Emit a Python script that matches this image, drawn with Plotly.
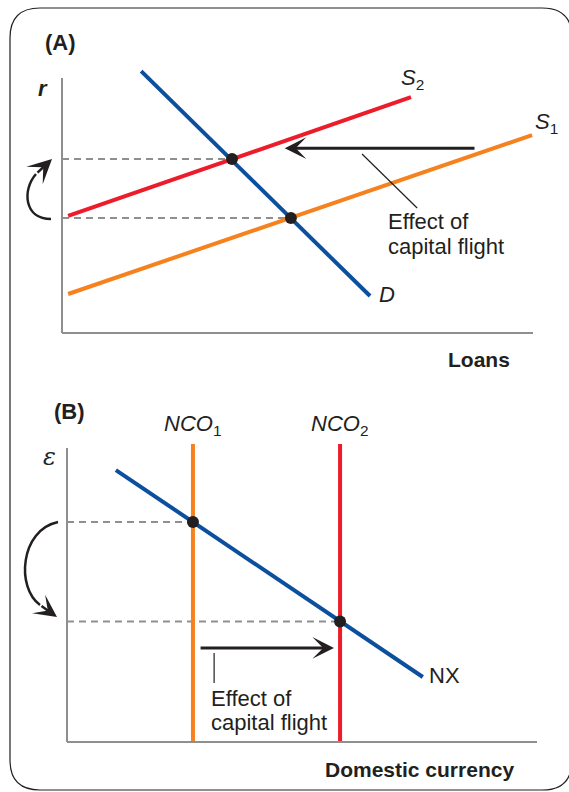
import plotly.graph_objects as go

# ---------------- Panel A : market for loanable funds ----------------
a_d_q = [1.68, 6.54]          # demand D
a_d_r = [10.27, 1.45]
a_s1_q = [0.13, 9.98]         # supply S1
a_s1_r = [1.53, 7.76]
a_s2_q = [0.13, 7.41]         # supply S2
a_s2_r = [4.59, 9.25]
a_eq_q = [3.61, 4.86]         # equilibria (S2,D) and (S1,D)
a_eq_r = [6.82, 4.51]
a_shift_q = [8.79, 4.73]      # arrow: from -> to
a_shift_r = [7.25, 7.25]
a_lead_q = [6.37, 7.54]
a_lead_r = [7.02, 4.90]

# ---------------- Panel B : foreign-currency exchange market ----------------
b_nx_x = [1.04, 7.57]
b_nx_e = [9.25, 2.21]
b_nco1_x = [2.68, 2.68]
b_nco2_x = [5.81, 5.81]
b_nco_e = [0.0, 10.14]
b_eq_x = [2.68, 5.81]
b_eq_e = [7.48, 4.1]
b_shift_x = [2.81, 5.68]
b_shift_e = [3.2, 3.2]
b_lead_x = [3.13, 3.13]
b_lead_e = [3.03, 2.01]

W, H = 569, 792
BLUE = "#0b4f9e"
RED = "#ec1c2a"
ORANGE = "#f6821f"
INK = "#231f20"
GREY = "#8f8f8f"
FONT = "Liberation Sans, Arial, sans-serif"

# pixel <-> data helpers (decorations only)
def a_x(px): return (px - 62) / 47.1
def a_y(py): return (333 - py) / 25.5
def b_x(px): return (px - 67) / 47.0
def b_y(py): return (742 - py) / 29.4

fig = go.Figure()

def line(xs, ys, color, width, xa="x", ya="y", dash=None):
    fig.add_trace(go.Scatter(x=xs, y=ys, mode="lines", xaxis=xa, yaxis=ya,
                             line=dict(color=color, width=width, dash=dash),
                             hoverinfo="skip", showlegend=False))

# Panel A
for q, r in zip(a_eq_q, a_eq_r):
    line([0, q], [r, r], GREY, 2, dash="7px,5px")
line(a_s2_q, a_s2_r, RED, 4)
line(a_s1_q, a_s1_r, ORANGE, 4)
line(a_d_q, a_d_r, BLUE, 4)
line(a_lead_q, a_lead_r, INK, 1.2)
fig.add_trace(go.Scatter(x=a_eq_q, y=a_eq_r, mode="markers", xaxis="x", yaxis="y",
                         marker=dict(color=INK, size=12), hoverinfo="skip", showlegend=False))

# Panel B
for x, e in zip(b_eq_x, b_eq_e):
    line([0, x], [e, e], GREY, 2, "x2", "y2", dash="7px,5px")
line(b_nco1_x, b_nco_e, ORANGE, 4, "x2", "y2")
line(b_nco2_x, b_nco_e, RED, 4, "x2", "y2")
line(b_nx_x, b_nx_e, BLUE, 4, "x2", "y2")
line(b_lead_x, b_lead_e, INK, 1.2, "x2", "y2")
fig.add_trace(go.Scatter(x=b_eq_x, y=b_eq_e, mode="markers", xaxis="x2", yaxis="y2",
                         marker=dict(color=INK, size=12), hoverinfo="skip", showlegend=False))

shapes = []
# axes lines
shapes += [
    dict(type="line", xref="x", yref="y", x0=0, y0=0, x1=0, y1=10, line=dict(color=GREY, width=2)),
    dict(type="line", xref="x", yref="y", x0=0, y0=0, x1=10, y1=0, line=dict(color=GREY, width=2)),
    dict(type="line", xref="x2", yref="y2", x0=0, y0=0, x1=0, y1=10, line=dict(color=GREY, width=2)),
    dict(type="line", xref="x2", yref="y2", x0=0, y0=0, x1=10, y1=0, line=dict(color=GREY, width=2)),
]
# curved arrows (bodies)
pa = "M {},{} C {},{} {},{} {},{}".format(a_x(51), a_y(219), a_x(24), a_y(219),
                                            a_x(22), a_y(190), a_x(36), a_y(174))
shapes.append(dict(type="path", xref="x", yref="y", path=pa, line=dict(color=INK, width=2.5)))
pb = "M {},{} C {},{} {},{} {},{}".format(b_x(58), b_y(522), b_x(20), b_y(530),
                                            b_x(16), b_y(588), b_x(40), b_y(605))
shapes.append(dict(type="path", xref="x2", yref="y2", path=pb, line=dict(color=INK, width=2.5)))

# rounded frame
def px(v): return v / W
def py(v): return 1 - v / H
L, T, R, B, rad = 10, 8, 572, 790, 30
frame = ("M {},{} L {},{} Q {},{} {},{} L {},{} Q {},{} {},{} L {},{} Q {},{} {},{} L {},{} Q {},{} {},{} Z"
         .format(px(L + rad), py(T), px(R - rad), py(T), px(R), py(T), px(R), py(T + rad),
                 px(R), py(B - rad), px(R), py(B), px(R - rad), py(B),
                 px(L + rad), py(B), px(L), py(B), px(L), py(B - rad),
                 px(L), py(T + rad), px(L), py(T), px(L + rad), py(T)))
shapes.append(dict(type="path", xref="paper", yref="paper", path=frame,
                   line=dict(color=INK, width=1.2)))

ann = []
def txt(x, y, s, xa="x", ya="y", size=21, xanchor="center", bold=False, italic=False, family=FONT):
    if bold:
        s = "<b>" + s + "</b>"
    if italic:
        s = "<i>" + s + "</i>"
    ann.append(dict(x=x, y=y, xref=xa, yref=ya, text=s, showarrow=False, xanchor=xanchor,
                    yanchor="middle", font=dict(family=family, size=size, color=INK)))

# shift arrows
ann.append(dict(x=a_shift_q[1], y=a_shift_r[1], ax=a_shift_q[0], ay=a_shift_r[0],
                xref="x", yref="y", axref="x", ayref="y", text="", showarrow=True,
                arrowhead=3, arrowsize=1.2, arrowwidth=3, arrowcolor=INK))
ann.append(dict(x=b_shift_x[1], y=b_shift_e[1], ax=b_shift_x[0], ay=b_shift_e[0],
                xref="x2", yref="y2", axref="x2", ayref="y2", text="", showarrow=True,
                arrowhead=3, arrowsize=1.2, arrowwidth=3, arrowcolor=INK))
# curved-arrow heads
ann.append(dict(x=a_x(52), y=a_y(159), xref="x", yref="y", ax=-16, ay=15, text="",
                showarrow=True, arrowhead=3, arrowsize=1.6, arrowwidth=2.5, arrowcolor=INK))
ann.append(dict(x=b_x(57), y=b_y(617), xref="x2", yref="y2", ax=-17, ay=-12, text="",
                showarrow=True, arrowhead=3, arrowsize=1.5, arrowwidth=2.5, arrowcolor=INK))

# Panel A labels
txt(a_x(60), a_y(42), "(A)", bold=True, size=22)
txt(a_x(43), a_y(88), "r", bold=True, italic=True, size=22)
txt(a_x(412), a_y(79), "<i>S</i><sub>2</sub>", size=22)
txt(a_x(546), a_y(123), "<i>S</i><sub>1</sub>", size=22)
txt(a_x(377), a_y(294), "<i>D</i>", xanchor="left", size=22)
txt(a_x(386), a_y(221), "Effect of", xanchor="left", size=22)
txt(a_x(386), a_y(246), "capital flight", xanchor="left", size=22)
txt(a_x(479), a_y(359), "Loans", bold=True)

# Panel B labels
txt(b_x(69), b_y(411), "(B)", "x2", "y2", bold=True, size=22)
txt(b_x(192), b_y(425), "<i>NCO</i><sub>1</sub>", "x2", "y2", size=22)
txt(b_x(339), b_y(425), "<i>NCO</i><sub>2</sub>", "x2", "y2", size=22)
txt(b_x(49), b_y(457), "ε", "x2", "y2", italic=True, size=24, family="DejaVu Serif, serif")
txt(b_x(427), b_y(675), "NX", "x2", "y2", xanchor="left", size=22)
txt(b_x(209), b_y(698), "Effect of", "x2", "y2", xanchor="left", size=22)
txt(b_x(209), b_y(722), "capital flight", "x2", "y2", xanchor="left", size=22)
txt(b_x(419), b_y(769), "Domestic currency", "x2", "y2", bold=True)

ax_common = dict(visible=False, fixedrange=True)
fig.update_layout(
    width=W, height=H, margin=dict(l=0, r=0, t=0, b=0),
    paper_bgcolor="white", plot_bgcolor="white",
    xaxis=dict(domain=[0, 1], range=[a_x(0), a_x(W)], anchor="y", **ax_common),
    yaxis=dict(domain=[0.5, 1], range=[a_y(396), a_y(0)], anchor="x", **ax_common),
    xaxis2=dict(domain=[0, 1], range=[b_x(0), b_x(W)], anchor="y2", **ax_common),
    yaxis2=dict(domain=[0, 0.5], range=[b_y(792), b_y(396)], anchor="x2", **ax_common),
    shapes=shapes, annotations=ann, showlegend=False,
)

fig.write_html("out.html", config={"displayModeBar": False},
               post_script="document.body.style.margin='0';document.body.style.overflow='hidden';")
